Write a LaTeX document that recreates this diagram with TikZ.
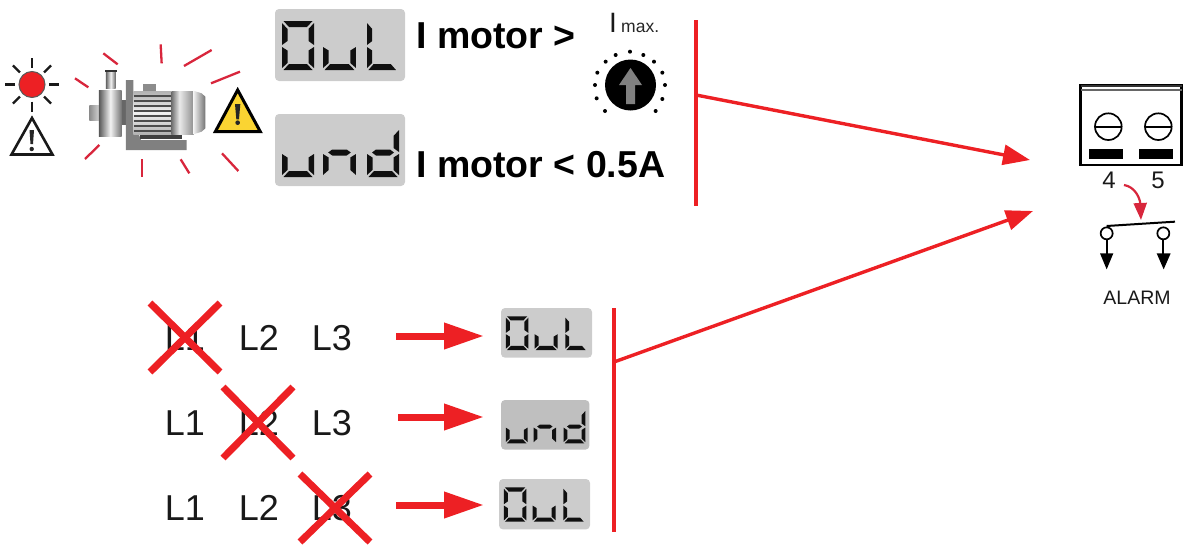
\documentclass[tikz,border=0pt]{standalone}
\usepackage{fontspec}
\setmainfont{Liberation Sans}
\usetikzlibrary{arrows.meta,calc}
\definecolor{rd}{HTML}{ED2024}
\definecolor{lcd}{HTML}{CCCCCC}
\definecolor{seg}{HTML}{101010}
\definecolor{tick}{HTML}{D8263C}
\def\segA{\fill[seg] (1.5,0)--(30.5,0)--(25,6)--(7,6)--cycle;}
\def\segF{\fill[seg] (0,2)--(5.5,8)--(5.5,20)--(0,24)--cycle;}
\def\segB{\fill[seg] (32,2)--(26.5,8)--(26.5,20)--(32,24)--cycle;}
\def\segG{\fill[seg] (5,24.5)--(9,21.5)--(23,21.5)--(27,24.5)--(23,27.5)--(9,27.5)--cycle;}
\def\segE{\fill[seg] (0,26)--(5.5,29.5)--(5.5,42)--(0,47)--cycle;}
\def\segC{\fill[seg] (32,26)--(26.5,29.5)--(26.5,42)--(32,47)--cycle;}
\def\segD{\fill[seg] (7,43)--(25,43)--(30.5,49)--(1.5,49)--cycle;}
\newcommand\lcddigit[4]{\begin{scope}[shift={(#1,#2)},xscale=#3]\foreach \s in {#4}{\csname seg\s\endcsname}\end{scope}}
\newcommand\dispOuL[4]{\begin{scope}[shift={(#1,#2)},xscale=#3,yscale=#4]
\fill[lcd,rounded corners=4pt] (0,0) rectangle (130,72);
\lcddigit{7}{12}{1}{A,F,B,E,C,D}
\lcddigit{48}{12}{1.03}{E,C,D}
\lcddigit{92}{12}{.95}{F,E,D}
\end{scope}}
\newcommand\dispUnd[5]{\begin{scope}[shift={(#1,#2)},xscale=#3,yscale=#4]
\fill[#5,rounded corners=4pt] (0,0) rectangle (130,72);
\lcddigit{7}{14}{1}{E,C,D}
\lcddigit{48}{14}{1.03}{G,E,C}
\lcddigit{92}{14}{1}{B,C,G,E,D}
\end{scope}}
\tikzset{
 redbar/.style={draw=rd,line width=4pt},
 redarrow/.style={draw=rd,line width=3.4pt,-{Stealth[length=27pt,width=20pt,inset=0pt]}},
 bigarrow/.style={draw=rd,line width=7pt,-{Stealth[length=40pt,width=25pt,inset=0pt]}},
 crossline/.style={draw=rd,line width=7pt},
 phase/.style={inner sep=0pt,font=\fontsize{36}{36}\selectfont,text=black!90},
 big/.style={inner sep=0pt,anchor=base west,font=\fontsize{37.5}{38}\selectfont\bfseries,text=black},
 rtick/.style={draw=tick,line width=2.3pt},
 gear/.style={draw=black,line width=1.7pt},
}
\begin{document}
\begin{tikzpicture}[x=1pt,y=-1pt]
\useasboundingbox (0,0) rectangle (1184,544);
% lamp
\foreach \a in {0,45,...,315}{\draw[black!90,line width=2.4pt] ($(32,84.5)+(\a:17)$)--($(32,84.5)+(\a:27)$);}
\fill[rd,draw=black!65,line width=1pt] (32,84.5) circle (13);
% warning left
\draw[black!90,line width=2.6pt,line join=miter,fill=white] (32,118)--(52.5,154.5)--(11.5,154.5)--cycle;
\fill[black!85] (29.5,130)--(34,130)--(33,144)--(30.5,144)--cycle;
\fill[black!85] (31.7,149) circle (2.2);
% pump in zoom space
\begin{scope}[scale=1/3]
\draw[rtick] (310,160)--(353,193);
\draw[rtick] (225,235)--(265,262);
\draw[rtick] (482,133)--(485,190);
\draw[rtick] (552,198)--(635,150);
\draw[rtick] (633,250)--(720,215);
\draw[rtick] (298,435)--(255,477);
\draw[rtick] (426,477)--(426,532);
\draw[rtick] (542,478)--(568,520);
\draw[rtick] (666,460)--(715,513);
\shade[left color=black!45,right color=black!15] (268,316) rectangle (300,360);
\shade[left color=black!60,right color=black!60,middle color=black!5] (318,212) rectangle (347,266);
\fill[black!80] (314,210) rectangle (350,217);
\fill[black!60] (365,300) rectangle (380,375);
\shade[left color=black!65,right color=black!55,middle color=black!5] (297,270) rectangle (365,410);
\fill[black!50] (378,240)--(400,240)--(400,360)--(423,420)--(560,420)--(560,450)--(378,450)--cycle;
\fill[black!45] (428,252) rectangle (468,272);
\fill[black!75] (420,403) rectangle (545,418);
\shade[top color=black!30,bottom color=black!30,middle color=black!5] (400,274) rectangle (515,402);
\foreach \y in {288,303,318,333,348,363,378,393}{\draw[black!70,line width=1.8pt] (402,\y)--(513,\y);}
\shade[left color=black!55,right color=black!5] (515,274) rectangle (540,402);
\shade[left color=black!10,right color=black!45] (540,274) rectangle (582,402);
\shade[left color=black!5,right color=black!55] (580,272)--(605,280)--(616,290)--(616,385)--(605,395)--(580,403)--cycle;
% yellow warning
\draw[black,line width=3pt,fill={rgb,255:red,250;green,212;blue,50},line join=miter] (713,270)--(781,395)--(646,395)--cycle;
\fill[black!85] (705,312)--(721,312)--(717,358)--(709,358)--cycle;
\fill[black!85] (713,368) circle (7);
\end{scope}
% displays
\dispOuL{275}{9}{1}{1}
\dispUnd{275}{114}{1}{1}{lcd}
\dispOuL{501}{308}{.7}{.69}
\dispUnd{501}{400}{.68}{.69}{black!25}
\dispOuL{499}{479}{.7}{.7}
% big labels
\node[big] (gt) at (416,48) {I motor >};
\node[big] (lt) at (416,177.5) {I motor < 0.5A};
% knob
\node[inner sep=0pt,anchor=base,font=\fontsize{28}{28}\selectfont,text=black!90] (imax) at (613,32.5) {I};
\node[inner sep=0pt,anchor=base west,font=\fontsize{17.5}{17}\selectfont,text=black!85] (maxlab) at (621,32) {max.};
\fill[black] (630.5,85) circle (25.5);
\fill[black!50] (630.5,68)--(642,85)--(635,85)--(635,104)--(626,104)--(626,85)--(619,85)--cycle;
\begin{scope}[scale=1/3,shift={(795,0)}]
\foreach \x/\y in {1020/333,995/295,990/255,997/218,1022/185,1052/165,1095/155,1135/165,1167/185,1192/218,1200/255,1192/297,1172/333}{\fill[black] (\x,\y) circle (6);}
\end{scope}
% phase rows
\node[phase] (a1) at (185,338) {L1};
\node[phase] (a2) at (259,338) {L2};
\node[phase] (a3) at (332,338) {L3};
\node[phase] (b1) at (185,423) {L1};
\node[phase] (b2) at (259,423) {L2};
\node[phase] (b3) at (332,423) {L3};
\node[phase] (c1) at (185,508) {L1};
\node[phase] (c2) at (259,508) {L2};
\node[phase] (c3) at (332,508) {L3};
\draw[crossline] ($(a1)+(-35,-35)$)--($(a1)+(35,34)$) ($(a1)+(35,-35)$)--($(a1)+(-35,34)$);
\draw[crossline] ($(b2)+(-36,-36)$)--($(b2)+(34,35)$) ($(b2)+(34,-36)$)--($(b2)+(-36,35)$);
\draw[crossline] ($(c3)+(-32,-34)$)--($(c3)+(38,34)$) ($(c3)+(38,-34)$)--($(c3)+(-32,34)$);
% arrows rows
\coordinate (r1s) at (396,336); \coordinate (r1e) at (484,336);
\coordinate (r2s) at (398,417); \coordinate (r2e) at (484,417);
\coordinate (r3s) at (396,505); \coordinate (r3e) at (484,505);
\draw[bigarrow] (r1s)--(r1e);
\draw[bigarrow] (r2s)--(r2e);
\draw[bigarrow] (r3s)--(r3e);
% bars and connectors
\coordinate (bar1t) at (696,20); \coordinate (bar1b) at (696,206); \coordinate (bar1m) at (696,95);
\coordinate (bar2t) at (614,308); \coordinate (bar2b) at (614,532); \coordinate (bar2m) at (614,362);
\coordinate (in1) at (1030,160); \coordinate (in2) at (1033,211);
\draw[redbar] (bar1t)--(bar1b);
\draw[redbar] (bar2t)--(bar2b);
\draw[redarrow] (bar1m)--(in1);
\draw[redarrow] (bar2m)--(in2);
% terminal
\begin{scope}[shift={(1060,70)},scale=1/3]
\draw[black,line width=2.8pt] (62,45) rectangle (365,285);
\fill[black!80] (62,45) rectangle (365,52);
\fill[black!60] (62,56) rectangle (365,63);
\draw[gear] (145,170) circle (40);
\draw[gear] (295,170) circle (40);
\draw[gear] (105,170)--(185,170);
\draw[gear] (255,170)--(335,170);
\fill[black] (88,237) rectangle (190,266);
\fill[black] (238,237) rectangle (340,266);
\coordinate (arcs) at (192,345); \coordinate (arce) at (243,450);
\draw[draw=tick,line width=2.2pt,-{Stealth[length=17pt,width=13pt,inset=0pt]}] (arcs) .. controls (225,350) and (240,385) .. (arce);
\draw[black,line width=2pt] (140,468)--(345,455);
\draw[gear,fill=white] (140,490) circle (18);
\draw[gear,fill=white] (310,490) circle (18);
\draw[black,line width=1.8pt] (140,508)--(140,560);
\draw[black,line width=1.8pt] (310,508)--(310,560);
\fill[black] (120,550)--(160,550)--(140,598)--cycle;
\fill[black] (290,550)--(332,550)--(311,598)--cycle;
\end{scope}
\node[inner sep=0pt,font=\fontsize{24}{24}\selectfont,text=black!90] (t4) at (1109,180) {4};
\node[inner sep=0pt,font=\fontsize{24}{24}\selectfont,text=black!90] (t5) at (1158,180) {5};
\node[inner sep=0pt,font=\fontsize{19.5}{20}\selectfont,text=black!90] (alarm) at (1137,298) {ALARM};
\end{tikzpicture}
\end{document}
